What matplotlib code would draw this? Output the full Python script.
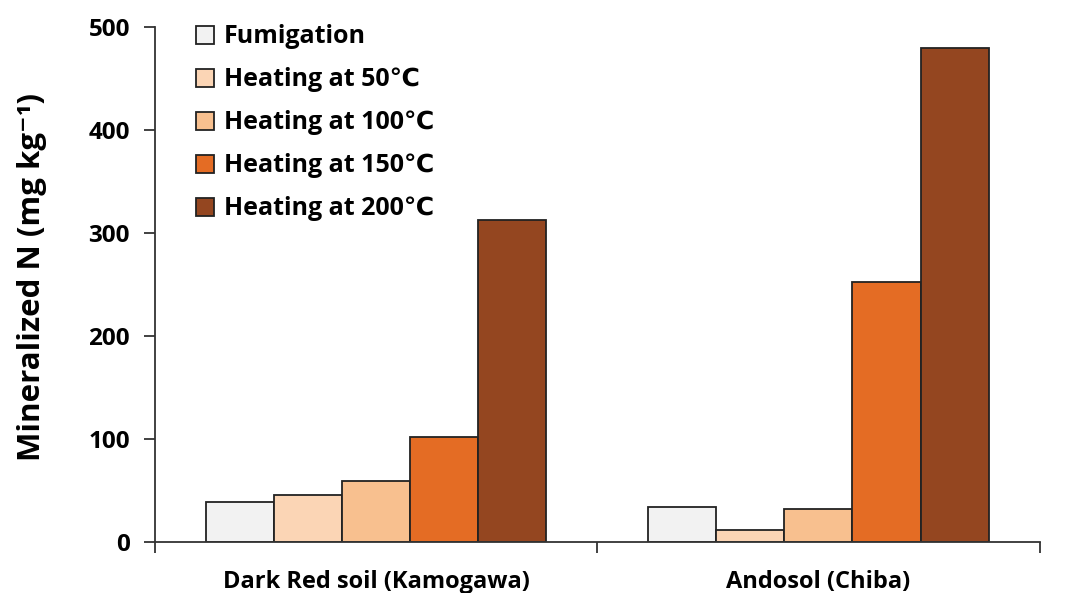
import matplotlib
matplotlib.use("Agg")
import matplotlib.pyplot as plt
import numpy as np

categories = ["Dark Red soil (Kamogawa)", "Andosol (Chiba)"]
series_names = ["Fumigation", "Heating at 50\u2103", "Heating at 100\u2103",
                "Heating at 150\u2103", "Heating at 200\u2103"]
fumigation = [39, 34]
heat50 = [46, 12]
heat100 = [59, 32]
heat150 = [102, 253]
heat200 = [313, 480]
yticks = [0, 100, 200, 300, 400, 500]

series = [fumigation, heat50, heat100, heat150, heat200]
colors = ["#F2F2F2", "#FBD5B5", "#F8C08F", "#E46C24", "#944620"]

plt.rcParams['font.family'] = ['Open Sans', 'DejaVu Sans']
plt.rcParams['font.weight'] = 'bold'

fig = plt.figure(figsize=(10.84, 5.93), dpi=100)
ax = fig.add_axes([0.143, 0.086, 0.816, 0.868])

x = np.arange(len(categories))
w = 0.154
for i, (vals, c, name) in enumerate(zip(series, colors, series_names)):
    ax.bar(x + (i - 2) * w, vals, width=w, color=c, edgecolor="#222222",
           linewidth=1.3, label=name)

ax.set_xlim(-0.5, 1.5)
ax.set_ylim(0, 500)
ax.set_yticks(yticks)
ax.set_yticklabels([str(t) for t in yticks], fontsize=17.5, fontweight='bold')
ax.set_xticks([-0.5, 0.5, 1.5])
ax.set_xticklabels([])
ax.set_xticks(x, minor=True)
ax.set_xticklabels(categories, minor=True, fontsize=17, fontweight='bold')
ax.tick_params(axis='x', which='minor', length=0, pad=20)
ax.tick_params(axis='x', which='major', direction='out', length=8, width=1.3, color="#333333")
ax.tick_params(axis='y', direction='out', length=8, width=1.3, color="#333333", pad=10)

for s in ['top', 'right']:
    ax.spines[s].set_visible(False)
for s in ['left', 'bottom']:
    ax.spines[s].set_linewidth(1.3)
    ax.spines[s].set_color("#333333")

ax.set_ylabel("Mineralized N (mg kg\u207b\u00b9)", fontsize=22.5, fontweight='bold')
ax.yaxis.set_label_coords(-0.122, 0.515)

leg = ax.legend(loc='upper left', bbox_to_anchor=(0.035, 1.025), frameon=False,
                prop={'size': 18, 'weight': 'bold'}, handlelength=0.72, handleheight=0.72,
                handletextpad=0.4, labelspacing=0.72, borderaxespad=0)

fig.savefig("out.png", dpi=100)
